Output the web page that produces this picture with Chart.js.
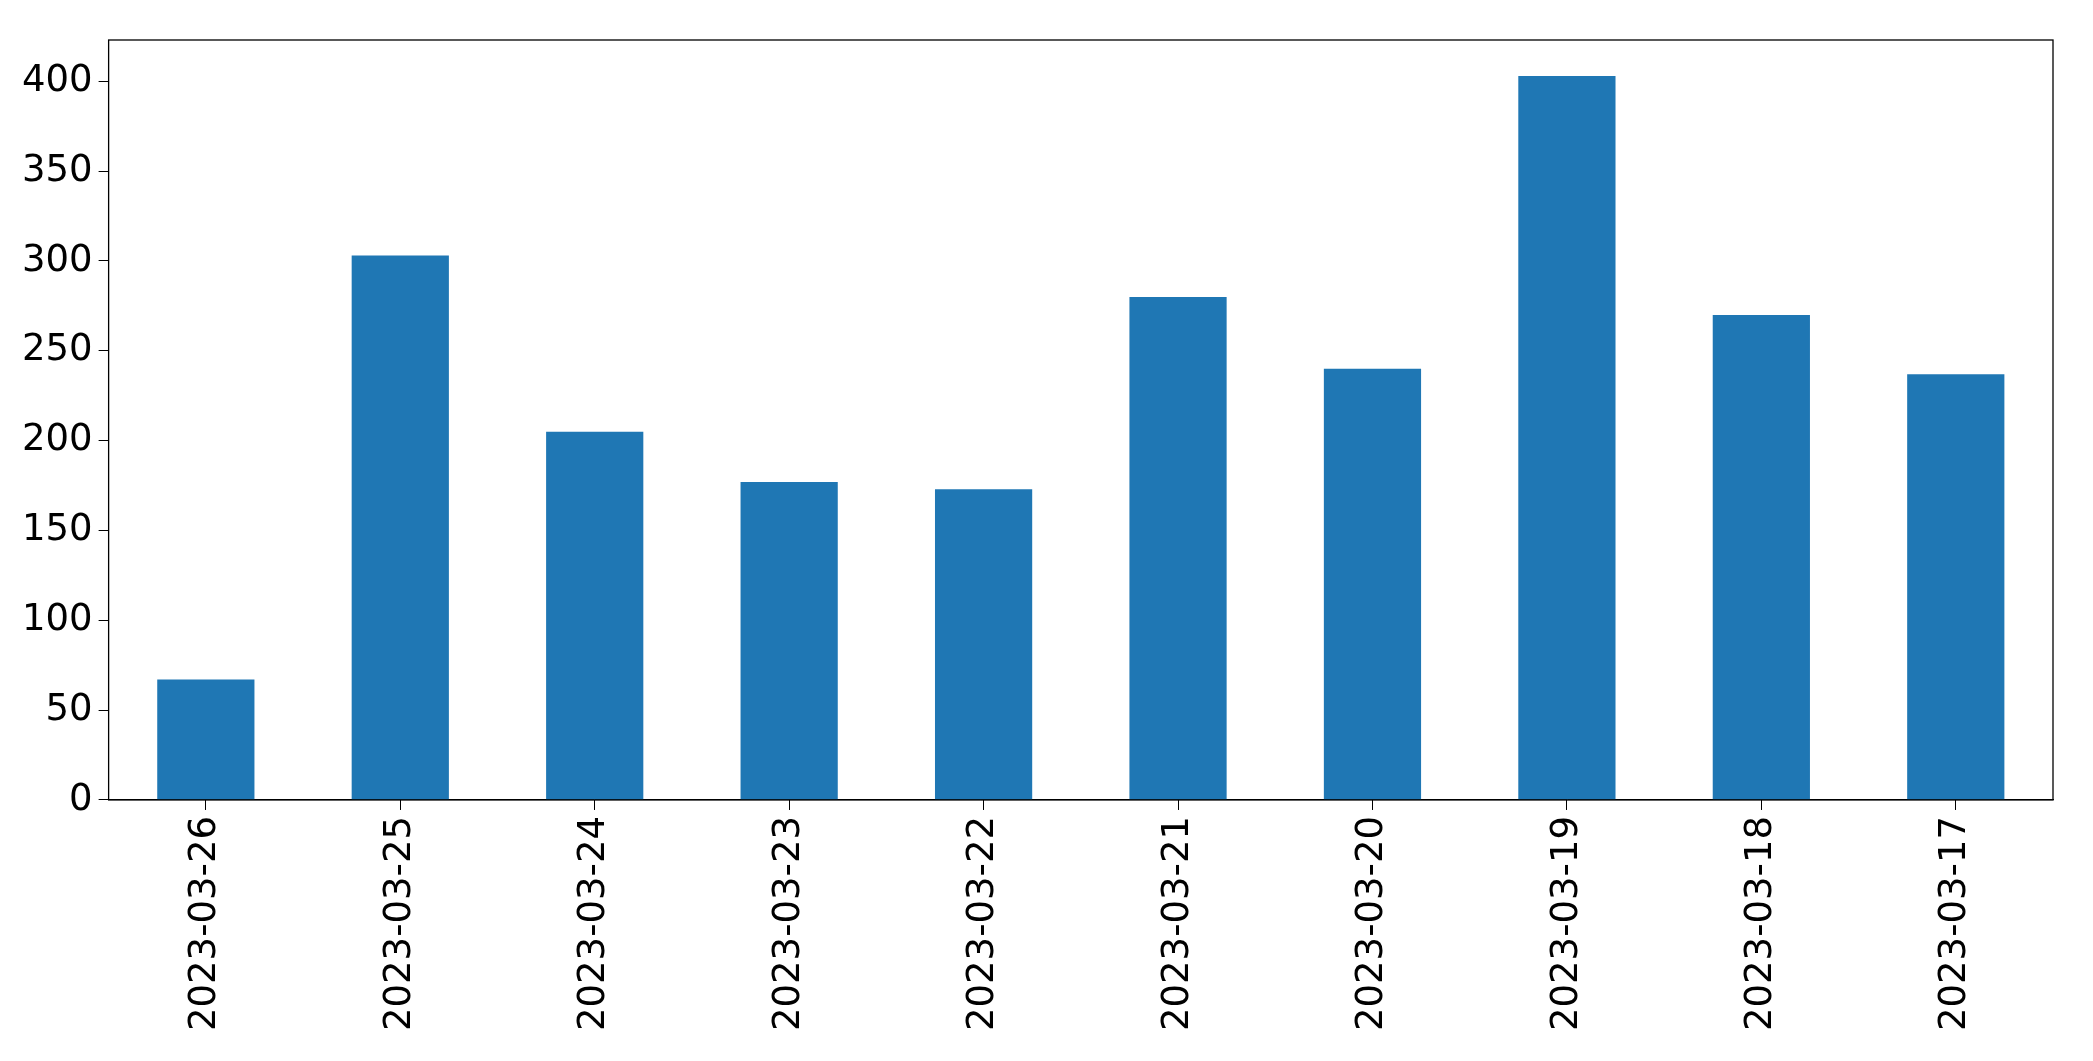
<!DOCTYPE html>
<html>
<head>
<meta charset="utf-8">
<script src="https://cdn.jsdelivr.net/npm/chart.js@4"></script>
<style>
  html, body { margin: 0; padding: 0; background: #fff; }
  #wrap { width: 2093px; height: 1061px; }
</style>
</head>
<body>
<div id="wrap"><canvas id="chart"></canvas></div>
<script>
const dates = ['2023-03-26', '2023-03-25', '2023-03-24', '2023-03-23', '2023-03-22',
               '2023-03-21', '2023-03-20', '2023-03-19', '2023-03-18', '2023-03-17'];
const counts = [67, 303, 205, 177, 173, 280, 240, 403, 270, 237];

// draws the matplotlib-style box around the plot area
const frame = {
  id: 'frame',
  afterDraw(chart) {
    const {ctx, chartArea: a} = chart;
    ctx.save();
    ctx.strokeStyle = '#000';
    ctx.lineWidth = 1.3;
    ctx.strokeRect(a.left, a.top, a.right - a.left, a.bottom - a.top);
    ctx.restore();
  }
};

const tickFont = { family: 'DejaVu Sans', size: 37 };

new Chart(document.getElementById('chart'), {
  type: 'bar',
  data: {
    labels: dates,
    datasets: [{
      data: counts,
      backgroundColor: '#1f77b4',
      categoryPercentage: 1.0,
      barPercentage: 0.5
    }]
  },
  options: {
    responsive: true,
    maintainAspectRatio: false,
    animation: false,
    layout: { padding: { top: 40, right: 40, left: 16, bottom: 24 } },
    plugins: { legend: { display: false }, tooltip: { enabled: false } },
    scales: {
      x: {
        grid: { drawOnChartArea: false, offset: false, tickLength: 10, color: '#000' },
        border: { color: '#000' },
        ticks: { font: tickFont, color: '#000', maxRotation: 90, minRotation: 90, padding: 6 }
      },
      y: {
        min: 0,
        max: 423,
        grid: { drawOnChartArea: false, tickLength: 10, color: '#000' },
        border: { color: '#000' },
        afterBuildTicks(axis) {
          axis.ticks = [0, 50, 100, 150, 200, 250, 300, 350, 400].map(v => ({ value: v }));
        },
        ticks: { font: tickFont, color: '#000', padding: 6 }
      }
    }
  },
  plugins: [frame]
});
</script>
</body>
</html>
